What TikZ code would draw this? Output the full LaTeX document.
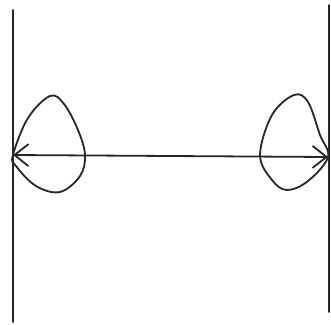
\documentclass[tikz,border=0pt]{standalone}
\usetikzlibrary{arrows.meta}
\begin{document}
\begin{tikzpicture}[x=1pt,y=-1pt,
  ink/.style={line width=1.8pt,draw=black!85,line cap=round,line join=round},
  openhead/.tip={Straight Barb[length=14pt,width=22pt,line width=1.8pt]}]
\useasboundingbox (0,0) rectangle (331,324);
% walls
\coordinate (lt) at (13,10);
\coordinate (lb) at (13,322);
\coordinate (rt) at (329,5);
\coordinate (rb) at (329,312);
\draw[ink] (lt) -- (lb);
\draw[ink] (rt) -- (rb);
% arrow
\coordinate (a) at (13,155);
\coordinate (b) at (328,157);
\draw[ink,openhead-openhead] (a) -- (b);
% left loop
\draw[ink] plot[smooth cycle,tension=0.6] coordinates
  {(13,155) (28,118) (50,96) (64,104) (78,130) (85,155) (80,176) (60,192) (36,186) (16,166)};
% right loop
\draw[ink] plot[smooth cycle,tension=0.6] coordinates
  {(260,155) (272,115) (294,95) (308,102) (320,135) (328,157) (308,181) (287,190) (272,180)};
\end{tikzpicture}
\end{document}
